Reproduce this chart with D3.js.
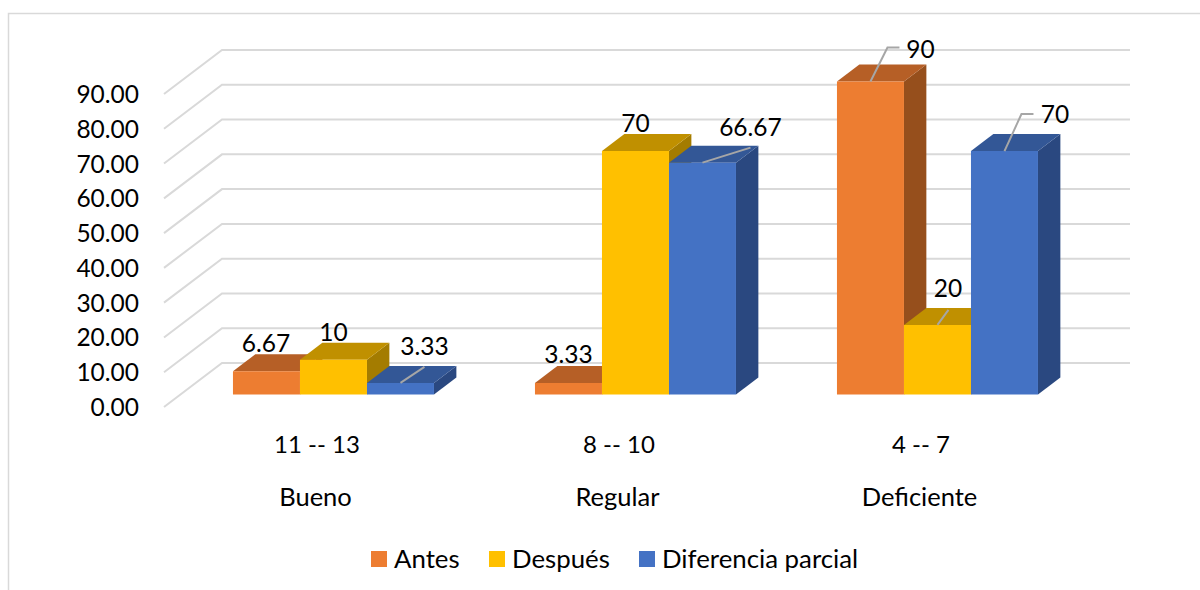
<!DOCTYPE html>
<html>
<head>
<meta charset="utf-8">
<script src="https://cdn.jsdelivr.net/npm/d3@7"></script>
<style>
  html, body { margin: 0; padding: 0; background: #fff; overflow: hidden; }
  text { font-family: Lato, "Open Sans", sans-serif; fill: #000; }
</style>
</head>
<body>
<div id="chart"></div>
<script>
// Data
var ranges = ["11 -- 13", "8 -- 10", "4 -- 7"];
var levels = ["Bueno", "Regular", "Deficiente"];
var seriesNames = ["Antes", "Después", "Diferencia parcial"];
var antes = [6.67, 3.33, 90];
var despues = [10, 70, 20];
var diferencia = [3.33, 66.67, 70];
var yTicks = [0, 10, 20, 30, 40, 50, 60, 70, 80, 90];

var width = 1200, height = 590;

var svg = d3.select("#chart").append("svg")
  .attr("width", width)
  .attr("height", height);

// Chart frame
svg.append("path")
  .attr("d", "M8.5,590V13.5H1200")
  .attr("fill", "none")
  .attr("stroke", "#d9d9d9")
  .attr("stroke-width", 1.5);

// Scales. Everything is on the front plane, depth moves it up and to the right
var y = d3.scaleLinear().domain([0, 90]).range([407, 94]);
var x = d3.scaleBand().domain(ranges).range([166, 1072])
  .paddingInner(0.3344).paddingOuter(0.1672);
var xSeries = d3.scaleBand().domain(seriesNames).range([0, x.bandwidth()]);

var depthX = 58, depthY = 44;
var barFront = 0.284, barBack = 0.67;

function px(xv, d) { return xv + d * depthX; }
function py(v, d) { return y(v) - d * depthY; }

// Gridlines
var gridLeft = 164, gridRight = 1072;
var line = d3.line();
svg.append("g").selectAll("path")
  .data(yTicks)
  .enter().append("path")
  .attr("d", function(d) {
    return line([[gridLeft, py(d, 0)], [px(gridLeft, 1), py(d, 1)], [px(gridRight, 1), py(d, 1)]]);
  })
  .attr("fill", "none")
  .attr("stroke", "#d9d9d9")
  .attr("stroke-width", 2);

// Y axis labels
svg.append("g").selectAll("text")
  .data(yTicks)
  .enter().append("text")
  .attr("x", 139)
  .attr("y", function(d) { return y(d) + 9; })
  .attr("text-anchor", "end")
  .style("font-size", "24.5px")
  .text(function(d) { return d3.format(".2f")(d); });

// Bars
var series = [
  { name: seriesNames[0], values: antes, front: "#ED7D31", top: "#B65F26", side: "#964F1C" },
  { name: seriesNames[1], values: despues, front: "#FFC000", top: "#C09000", side: "#A47C00" },
  { name: seriesNames[2], values: diferencia, front: "#4472C4", top: "#335796", side: "#2A4880" }
];

var bars = [];
ranges.forEach(function(r, i) {
  series.forEach(function(s) {
    bars.push({ x0: x(r) + xSeries(s.name), w: xSeries.bandwidth(), v: s.values[i], s: s });
  });
});

function poly(points) { return line(points) + "Z"; }

var barG = svg.append("g").selectAll("g")
  .data(bars)
  .enter().append("g");

barG.append("path")
  .attr("fill", function(d) { return d.s.side; })
  .attr("d", function(d) {
    var r = d.x0 + d.w;
    return poly([[px(r, barFront), py(d.v, barFront)], [px(r, barBack), py(d.v, barBack)],
      [px(r, barBack), py(0, barBack)], [px(r, barFront), py(0, barFront)]]);
  });

barG.append("path")
  .attr("fill", function(d) { return d.s.top; })
  .attr("d", function(d) {
    var r = d.x0 + d.w;
    return poly([[px(d.x0, barFront), py(d.v, barFront)], [px(r, barFront), py(d.v, barFront)],
      [px(r, barBack), py(d.v, barBack)], [px(d.x0, barBack), py(d.v, barBack)]]);
  });

barG.append("path")
  .attr("fill", function(d) { return d.s.front; })
  .attr("d", function(d) {
    var r = d.x0 + d.w;
    return poly([[px(d.x0, barFront), py(d.v, barFront)], [px(r, barFront), py(d.v, barFront)],
      [px(r, barFront), py(0, barFront)], [px(d.x0, barFront), py(0, barFront)]]);
  });

// Data labels, placed by hand as in the original: offset from the middle of the bar's front top edge.
// leader = bend points of the callout line, relative to the same spot
var labelPlacement = [
  { dx: -0.5, dy: -19 },
  { dx: 0, dy: -19 },
  { dx: 24, dy: -28, leader: [[24, -16]] },
  { dx: 0, dy: -20 },
  { dx: 0, dy: -19 },
  { dx: 48, dy: -27, leader: [[48, -15]] },
  { dx: 50, dy: -23.5, leader: [[17, -34], [29, -34]] },
  { dx: 10.5, dy: -28, leader: [[11, -15]] },
  { dx: 50.5, dy: -28, leader: [[17, -37], [29, -37]] }
];

barG.each(function(d, i) {
  var p = labelPlacement[i];
  var cx = px(d.x0 + d.w / 2, barFront), cy = py(d.v, barFront);
  var g = d3.select(this);
  if (p.leader) {
    g.append("path")
      .attr("d", line([[cx, cy]].concat(p.leader.map(function(o) { return [cx + o[0], cy + o[1]]; }))))
      .attr("fill", "none")
      .attr("stroke", "#a6a6a6")
      .attr("stroke-width", 2);
  }
  g.append("text")
    .attr("x", cx + p.dx)
    .attr("y", cy + p.dy)
    .attr("text-anchor", "middle")
    .style("font-size", "24.5px")
    .text(d.v);
});

// Category labels, two levels
var catG = svg.append("g").selectAll("g")
  .data(ranges)
  .enter().append("g")
  .attr("text-anchor", "middle");

catG.append("text")
  .attr("x", function(d) { return x(d) + x.bandwidth() / 2; })
  .attr("y", 453)
  .style("font-size", "24px")
  .text(function(d) { return d; });

catG.append("text")
  .attr("x", function(d) { return x(d) + x.bandwidth() / 2 - 1.5; })
  .attr("y", 506)
  .style("font-size", "25.5px")
  .text(function(d, i) { return levels[i]; });

// Legend
var legendX = [371, 489, 639];
var legend = svg.append("g").selectAll("g")
  .data(series)
  .enter().append("g")
  .attr("transform", function(d, i) { return "translate(" + legendX[i] + ",551)"; });

legend.append("rect")
  .attr("width", 16)
  .attr("height", 16)
  .attr("fill", function(d) { return d.front; });

legend.append("text")
  .attr("x", 23)
  .attr("y", 17)
  .style("font-size", "25.8px")
  .text(function(d) { return d.name; });
</script>
</body>
</html>
